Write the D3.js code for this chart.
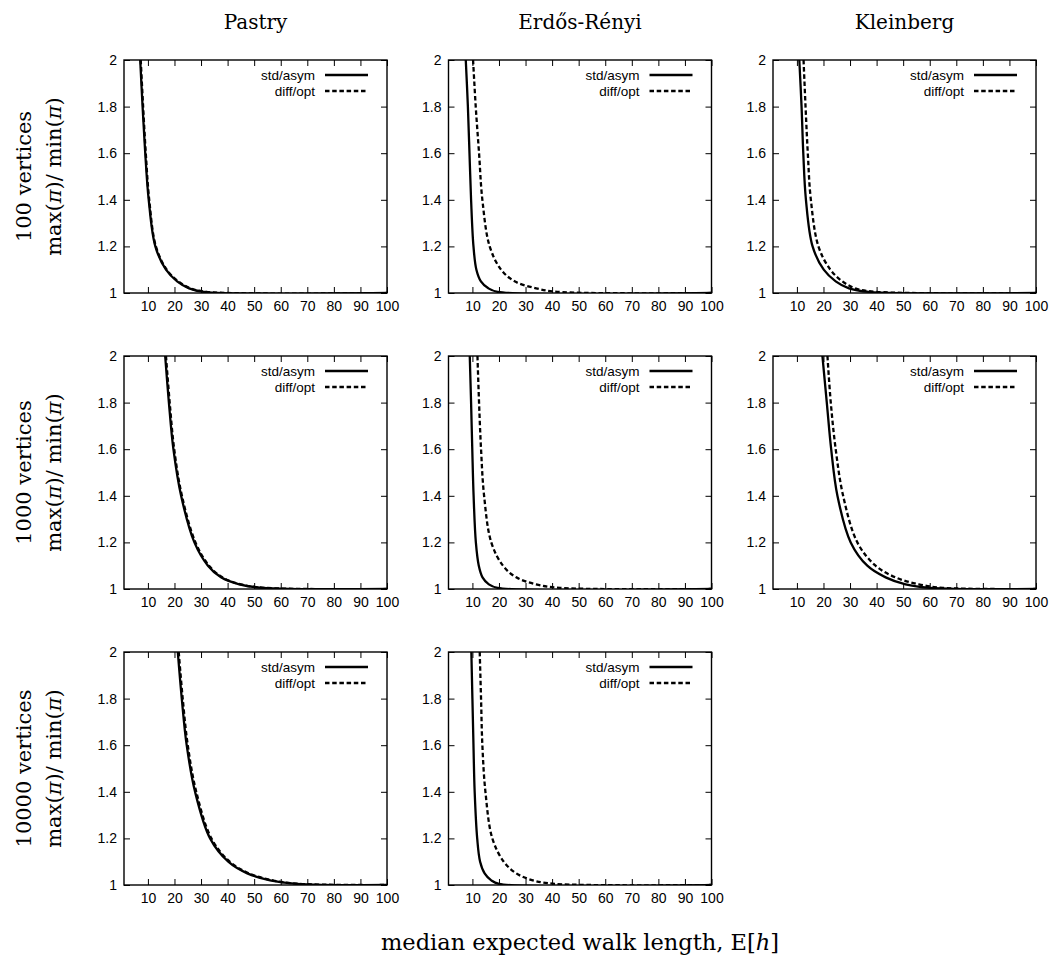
<!DOCTYPE html>
<html>
<head>
<meta charset="utf-8">
<script src="https://cdn.jsdelivr.net/npm/d3@7"></script>
<style>
  body { margin: 0; background: #fff; }
  text { fill: #000; }
</style>
</head>
<body>
<svg id="chart" width="1057" height="962"></svg>
<script>
const graphs = ['Pastry', 'Erdős-Rényi', 'Kleinberg'];
const sizes = [100, 1000, 10000];
const seriesNames = ['std/asym', 'diff/opt'];
const xTicks = [10, 20, 30, 40, 50, 60, 70, 80, 90, 100];
const yTicks = [1, 1.2, 1.4, 1.6, 1.8, 2];

// ratio levels, and the walk length at which each curve reaches them
const ratioLevels = [2, 1.8, 1.6, 1.4, 1.2, 1.1, 1.05, 1.02, 1.005, 1];

const pastry100Std  = [7.1, 8.0, 9.0, 10.3, 12.8, 16.8, 21.0, 25.5, 31, 100];
const pastry100Opt  = [7.3, 8.2, 9.2, 10.5, 13.0, 17.1, 21.4, 26, 32, 100];
const er100Std      = [7.5, 8.3, 8.9, 9.5, 10.4, 11.5, 13.2, 16, 19.5, 100];
const er100Opt      = [10.25, 11.25, 12.5, 13.75, 16.5, 20.8, 25.9, 34, 42, 100];
const kl100Std      = [10.9, 11.75, 12.4, 13.4, 15.9, 20.1, 24.6, 29.6, 37, 100];
const kl100Opt      = [12.5, 13.25, 14.1, 15.25, 18.1, 22.6, 27.1, 32, 40, 100];

const pastry1000Std = [16.5, 17.9, 19.6, 22.5, 27.5, 32.6, 37.5, 44.4, 53, 100];
const pastry1000Opt = [16.8, 18.2, 19.9, 22.8, 27.9, 33.0, 38.0, 45, 54, 100];
const er1000Std     = [9.0, 9.5, 9.95, 10.45, 11.3, 12.4, 13.8, 16.2, 19.5, 100];
const er1000Opt     = [11.9, 12.5, 13.25, 14.4, 17.1, 21.5, 26.5, 34, 43, 100];
const kl1000Std     = [19.6, 21.25, 22.9, 25.25, 30.25, 36.5, 43.4, 50.9, 60, 100];
const kl1000Opt     = [21.5, 22.75, 24.6, 27.4, 32.75, 39.6, 47.1, 55.9, 65, 100];

const pastry10000Std = [21.25, 22.75, 24.6, 27.75, 33.4, 40.25, 47.4, 56, 66, 100];
const pastry10000Opt = [21.6, 23.1, 25.0, 28.2, 33.9, 40.8, 48, 57, 67, 100];
const er10000Std     = [9.6, 10.0, 10.4, 10.85, 11.8, 12.9, 14.6, 17.1, 20, 100];
const er10000Opt     = [12.75, 13.25, 13.75, 14.9, 17.5, 21.8, 26.5, 32.75, 41, 100];

const panels = [
  { row: 0, col: 0, series: [pastry100Std, pastry100Opt] },
  { row: 0, col: 1, series: [er100Std, er100Opt] },
  { row: 0, col: 2, series: [kl100Std, kl100Opt] },
  { row: 1, col: 0, series: [pastry1000Std, pastry1000Opt] },
  { row: 1, col: 1, series: [er1000Std, er1000Opt] },
  { row: 1, col: 2, series: [kl1000Std, kl1000Opt] },
  { row: 2, col: 0, series: [pastry10000Std, pastry10000Opt] },
  { row: 2, col: 1, series: [er10000Std, er10000Opt] },
];

const panelWidth = 263;
const panelHeight = 233;
const left0 = 124, colStep = 324.5;
const top0 = 60, rowStep = 296;
const serif = '"DejaVu Serif", "Liberation Serif", serif';
const sans = '"Liberation Sans", Arial, sans-serif';

const svg = d3.select('#chart');

const x = d3.scaleLinear().domain([1, 100]).range([0, panelWidth]);
const y = d3.scaleLinear().domain([1, 2]).range([panelHeight, 0]);

const line = d3.line()
  .x(d => x(d[0]))
  .y(d => y(d[1]))
  .curve(d3.curveCatmullRom.alpha(0.5));

const dashes = [null, '4.5,2.7'];

panels.forEach((p, i) => {
  const gx = left0 + p.col * colStep;
  const gy = top0 + p.row * rowStep;
  const graph = svg.append('g').attr('transform', `translate(${gx}, ${gy})`);

  graph.append('clipPath').attr('id', 'clip' + i)
    .append('rect').attr('width', panelWidth).attr('height', panelHeight);

  const xAxis = d3.axisBottom(x).tickValues(xTicks).tickSize(-6).tickSizeOuter(0).tickPadding(8);
  const xTop = d3.axisTop(x).tickValues(xTicks).tickSize(-6).tickSizeOuter(0).tickFormat('');
  const yAxis = d3.axisLeft(y).tickValues(yTicks).tickSize(-6).tickSizeOuter(0).tickPadding(7)
    .tickFormat(d => String(d));
  const yRight = d3.axisRight(y).tickValues(yTicks).tickSize(-6).tickSizeOuter(0).tickFormat('');

  [
    graph.append('g').attr('transform', `translate(0, ${panelHeight})`).call(xAxis),
    graph.append('g').call(xTop),
    graph.append('g').call(yAxis),
    graph.append('g').attr('transform', `translate(${panelWidth}, 0)`).call(yRight)
  ].forEach(a => {
    a.select('.domain').remove();
    a.selectAll('line').attr('stroke', '#000').attr('stroke-width', 1);
    a.selectAll('text').style('font-family', sans).style('font-size', '14px').attr('fill', '#000');
  });

  graph.append('rect')
    .attr('width', panelWidth).attr('height', panelHeight)
    .attr('fill', 'none').attr('stroke', '#000').attr('stroke-width', 1.4);

  const plot = graph.append('g').attr('clip-path', `url(#clip${i})`);
  p.series.forEach((xs, s) => {
    const pts = xs.map((v, k) => [v, ratioLevels[k]]);
    plot.append('path')
      .datum(pts)
      .attr('fill', 'none')
      .attr('stroke', '#000')
      .attr('stroke-width', 2.3)
      .attr('stroke-dasharray', dashes[s])
      .attr('d', line);
  });

  // legend
  seriesNames.forEach((name, s) => {
    const ly = 15 + s * 16;
    graph.append('text')
      .attr('x', panelWidth - 72).attr('y', ly + 5)
      .attr('text-anchor', 'end')
      .style('font-family', sans).style('font-size', '13.5px')
      .text(name);
    graph.append('line')
      .attr('x1', panelWidth - 62).attr('x2', panelWidth - 19)
      .attr('y1', ly).attr('y2', ly)
      .attr('stroke', '#000').attr('stroke-width', 2.3)
      .attr('stroke-dasharray', dashes[s]);
  });
});

// column titles
graphs.forEach((g, c) => {
  svg.append('text')
    .attr('x', left0 + c * colStep + panelWidth / 2)
    .attr('y', 29)
    .attr('text-anchor', 'middle')
    .style('font-family', serif).style('font-size', '20px')
    .text(g);
});

// row labels
sizes.forEach((n, r) => {
  const cy = top0 + r * rowStep + panelHeight / 2;
  svg.append('text')
    .attr('transform', `translate(31, ${cy}) rotate(-90)`)
    .attr('text-anchor', 'middle')
    .style('font-family', serif).style('font-size', '21px')
    .text(n + ' vertices');
  const t2 = svg.append('text')
    .attr('transform', `translate(61, ${cy}) rotate(-90)`)
    .attr('text-anchor', 'middle')
    .style('font-family', serif).style('font-size', '21px');
  t2.append('tspan').text('max(');
  t2.append('tspan').style('font-style', 'italic').text('π');
  t2.append('tspan').text(')/ min(');
  t2.append('tspan').style('font-style', 'italic').text('π');
  t2.append('tspan').text(')');
});

// x axis title
const xt = svg.append('text')
  .attr('x', left0 + colStep + panelWidth / 2)
  .attr('y', 950)
  .attr('text-anchor', 'middle')
  .style('font-family', serif).style('font-size', '22.5px');
xt.append('tspan').text('median expected walk length, E[');
xt.append('tspan').style('font-style', 'italic').text('h');
xt.append('tspan').text(']');
</script>
</body>
</html>
